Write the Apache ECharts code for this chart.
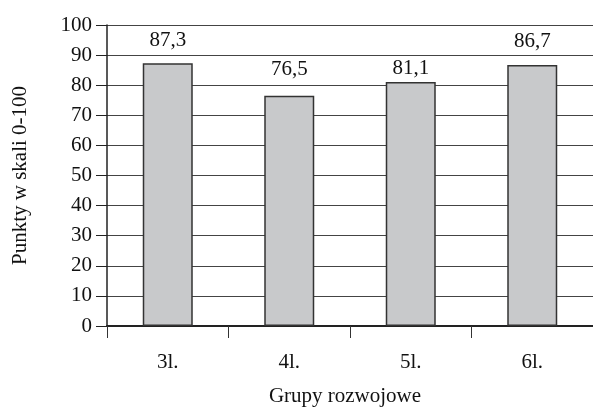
<!DOCTYPE html>
<html>
<head>
<meta charset="utf-8">
<script src="https://cdn.jsdelivr.net/npm/echarts@6/dist/echarts.min.js"></script>
<style>
html,body{margin:0;padding:0;background:#fff;}
#c{width:593px;height:412px;}
</style>
</head>
<body>
<div id="c"></div>
<script>
const categories = ['3l.', '4l.', '5l.', '6l.'];
const values = [87.3, 76.5, 81.1, 86.7];
const yTicks = [0, 10, 20, 30, 40, 50, 60, 70, 80, 90, 100];
const yAxisName = 'Punkty w skali 0-100';
const xAxisName = 'Grupy rozwojowe';

const font = '"Liberation Serif", "DejaVu Serif", serif';
const labelDistances = [12, 16, 3, 13];
const chart = echarts.init(document.getElementById('c'));
chart.setOption({
  animation: false,
  backgroundColor: '#fff',
  grid: { left: 107, top: 25, width: 491, height: 306 },
  xAxis: {
    type: 'category',
    data: categories,
    boundaryGap: true,
    name: xAxisName,
    nameLocation: 'middle',
    nameGap: 60,
    nameTextStyle: { fontFamily: font, fontSize: 21, color: '#111', padding: [0, 10, 0, 0] },
    axisLine: { show: true, lineStyle: { color: '#222', width: 2 } },
    axisTick: { show: true, length: 12, alignWithLabel: false, lineStyle: { color: '#333', width: 1 } },
    axisLabel: { fontFamily: font, fontSize: 21, color: '#111', margin: 26 },
    splitLine: { show: false }
  },
  yAxis: {
    type: 'value',
    min: yTicks[0],
    max: yTicks[yTicks.length - 1],
    interval: 10,
    name: yAxisName,
    nameLocation: 'middle',
    nameGap: 76,
    nameRotate: 90,
    nameTextStyle: { fontFamily: font, fontSize: 21, color: '#111' },
    axisLine: { show: true, lineStyle: { color: '#222', width: 1.5 } },
    axisTick: { show: true, length: 11, lineStyle: { color: '#222', width: 1 } },
    axisLabel: { fontFamily: font, fontSize: 21, color: '#111', margin: 15,
      formatter: v => String(v) },
    splitLine: { show: true, lineStyle: { color: '#444', width: 1 } }
  },
  series: [{
    type: 'bar',
    barWidth: 50,
    data: values.map((v, i) => ({
      value: v,
      label: { distance: labelDistances[i] }
    })),
    itemStyle: { color: '#c8c9cb', borderColor: '#333', borderWidth: 1.5 },
    label: {
      show: true,
      position: 'top',
      fontFamily: font,
      fontSize: 21,
      color: '#111',
      formatter: p => String(p.value).replace('.', ',')
    }
  }]
});
</script>
</body>
</html>
